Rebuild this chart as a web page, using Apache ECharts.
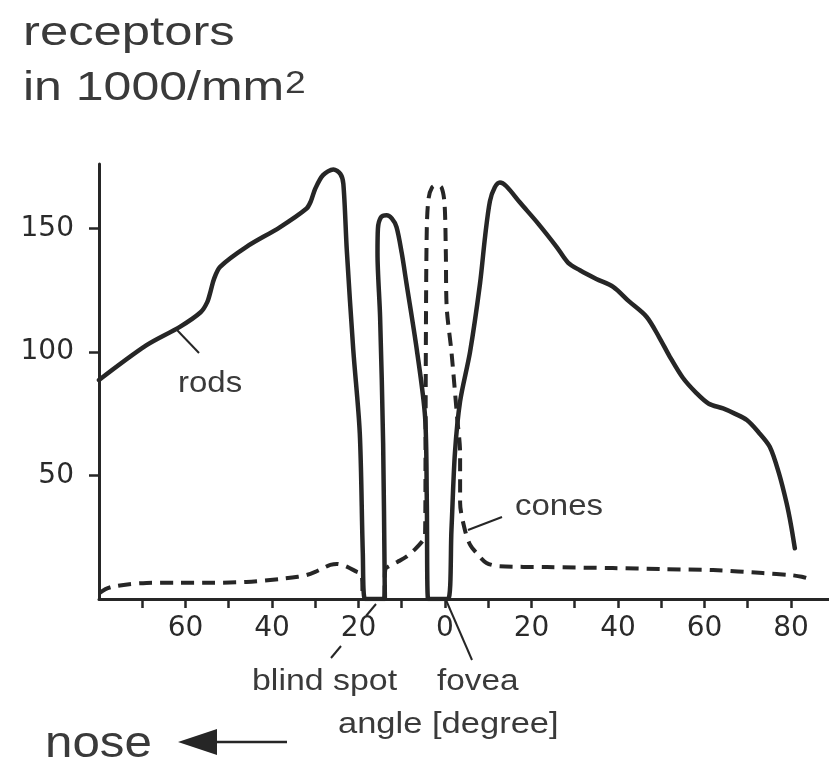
<!DOCTYPE html>
<html>
<head>
<meta charset="utf-8">
<script src="https://cdn.jsdelivr.net/npm/echarts@6/dist/echarts.min.js"></script>
<style>
html,body{margin:0;padding:0;background:#fff;}
#c{width:829px;height:763px;}
</style>
</head>
<body>
<div id="c"></div>
<script>
// ---- data (angle in degrees, density in 1000/mm^2) ----
const rodAngles = [-80, -69, -61.3, -56.5, -55, -54.2, -53.4, -52, -45.9, -38.2, -32, -31, -30, -28.2, -25.8, -24.2, -23.5, -22.7, -21.2, -19.7, -19, -18.5,
  -13.9, -14.3, -15, -15.6, -15.5, -14.8, -13.5, -12.3, -11.2, -10, -8.9, -6.5, -4.6, -4.2, -3.9,
  0.7, 1.5, 2.3, 3.5, 5.8, 8.1, 9.3, 10.4, 11.5, 12.7, 14.2, 17.3, 21.5, 25.8, 28.5, 31.2, 35, 38.9, 42.5, 46.6, 49.5, 52, 55, 58.2, 61, 64.3, 67, 69.8, 72.5, 75.1, 77.2, 79, 80, 80.9];
const rodValues = [88.6, 102.7, 110.1, 116, 120, 124.5, 129.5, 134.4, 142.5, 150.4, 158, 161, 166, 171.5, 173.8, 172, 168, 141.1, 100.7, 67.1, 18.6, 0,
  0, 63, 114, 140, 150, 154.5, 155.3, 154, 150.5, 140, 127.7, 100.7, 73.7, 40, 0,
  0, 28, 59, 80, 100, 127.6, 147, 161, 166.5, 168.5, 167, 160.5, 152, 142.5, 136, 133, 129.5, 126.3, 120.5, 114.2, 106, 98, 89.5, 83.2, 79, 77.1, 75, 72.4, 67.5, 61.6, 51, 38.7, 30, 20.5];

const coneAngles = [-80, -78.5, -76.8, -73, -69, -61.5, -53.6, -45.9, -38.2, -34, -32, -30, -28.2, -26.5, -25, -23.8, -22.7, -20.4, -19.3, -18.8,
  -14.2, -13.8, -13.1, -11, -8.9, -7, -5, -4.6, -4.5, -4.4, -4.2, -3.8, -3.0, -1.9, -0.8, -0.1, 0.2, 0.4, 1.5, 2.8, 3.5, 3.5, 4.6, 5.8, 7.3, 9.6, 12.5,
  23.6, 38.8, 50, 62, 73.5, 79.8, 82.5, 85.1];
const coneValues = [2.3, 4, 5, 6, 6.5, 6.6, 6.6, 6.9, 8.1, 9, 9.7, 11, 12.5, 13.8, 14.2, 13.8, 13.1, 11, 10, 0,
  0, 12, 13.1, 15, 17.1, 20, 23.9, 26, 60, 110, 150, 162, 166.5, 167.5, 166.5, 160, 140, 118, 100, 73.7, 59, 39, 28, 22, 18.6, 14.6, 13.3,
  12.9, 12.5, 12.1, 11.7, 10.5, 9.7, 9, 7.7];

const xLabelValues = [-60, -40, -20, 0, 20, 40, 60, 80];
const xTickValues = [-70, -60, -50, -40, -30, -20, -10, 0, 10, 20, 30, 40, 50, 60, 70, 80];
const yLabelValues = [50, 100, 150];

// ---- chart ----
const ink = '#262626';
const textInk = '#3a3a3a';
const chart = echarts.init(document.getElementById('c'), null, {renderer: 'canvas'});

function txt(text, x, baseline, size, sx) {
  return {
    type: 'text', x: x, y: baseline - 0.265 * size, scaleX: sx, scaleY: 1,
    style: {text: text, x: 0, y: 0, fontSize: size, fontFamily: 'Liberation Sans, Arial, sans-serif',
      fill: textInk, textAlign: 'left', textVerticalAlign: 'middle', verticalAlign: 'middle'}
  };
}
function seg(x1, y1, x2, y2, w) {
  return {type: 'line', shape: {x1: x1, y1: y1, x2: x2, y2: y2}, style: {stroke: ink, lineWidth: w || 2}};
}

chart.setOption({
  backgroundColor: '#ffffff',
  animation: false,
  grid: {left: 99, right: 0, top: 164, bottom: 164, containLabel: false, outerBoundsMode: 'none'},
  xAxis: {
    type: 'value', min: -80, max: 88.8, interval: 10,
    splitLine: {show: false},
    axisLine: {show: true, onZero: false, lineStyle: {color: ink, width: 3}},
    axisTick: {show: true, inside: false, length: 9, customValues: xTickValues, lineStyle: {color: ink, width: 2.5}},
    axisLabel: {show: true, customValues: xLabelValues, margin: 16, color: '#2a2a2a', fontSize: 28,
      fontFamily: 'DejaVu Sans, sans-serif', formatter: v => String(Math.abs(v))}
  },
  yAxis: {
    type: 'value', min: 0, max: 176, interval: 50,
    splitLine: {show: false},
    axisLine: {show: true, onZero: false, lineStyle: {color: ink, width: 3}},
    axisTick: {show: true, inside: false, length: 10, customValues: yLabelValues, lineStyle: {color: ink, width: 2.5}},
    axisLabel: {show: true, customValues: yLabelValues, margin: 25, color: '#2a2a2a', fontSize: 28,
      fontFamily: 'DejaVu Sans, sans-serif'}
  },
  series: [
    {
      name: 'rods', type: 'line', smooth: 0.3, symbol: 'none', clip: true,
      data: rodAngles.map((a, i) => [a, rodValues[i]]),
      lineStyle: {color: ink, width: 4.5, cap: 'round', join: 'round'}
    },
    {
      name: 'cones', type: 'line', smooth: 0.3, symbol: 'none', clip: true,
      data: coneAngles.map((a, i) => [a, coneValues[i]]),
      lineStyle: {color: ink, width: 4, type: [13, 8], join: 'round'}
    }
  ],
  graphic: [
    txt('receptors', 23, 45, 40, 1.27),
    txt('in 1000/mm', 23, 100, 40, 1.25),
    txt('2', 285, 93, 31, 1.2),
    txt('rods', 178, 392, 30, 1.1),
    txt('cones', 515, 515, 30, 1.1),
    txt('blind spot', 252, 690, 30, 1.13),
    txt('fovea', 437, 690, 30, 1.11),
    txt('angle [degree]', 338, 733, 30, 1.15),
    txt('nose', 45, 757, 44, 1.12),
    seg(177, 330, 199, 353),
    seg(468, 530, 502, 517),
    seg(331, 658, 341, 646),
    seg(366, 616, 376, 604),
    seg(446, 600, 472, 660),
    {type: 'polygon', shape: {points: [[178, 742], [217, 729], [217, 755]]}, style: {fill: ink}},
    seg(214, 742, 287, 742, 2.5)
  ]
});
</script>
</body>
</html>
